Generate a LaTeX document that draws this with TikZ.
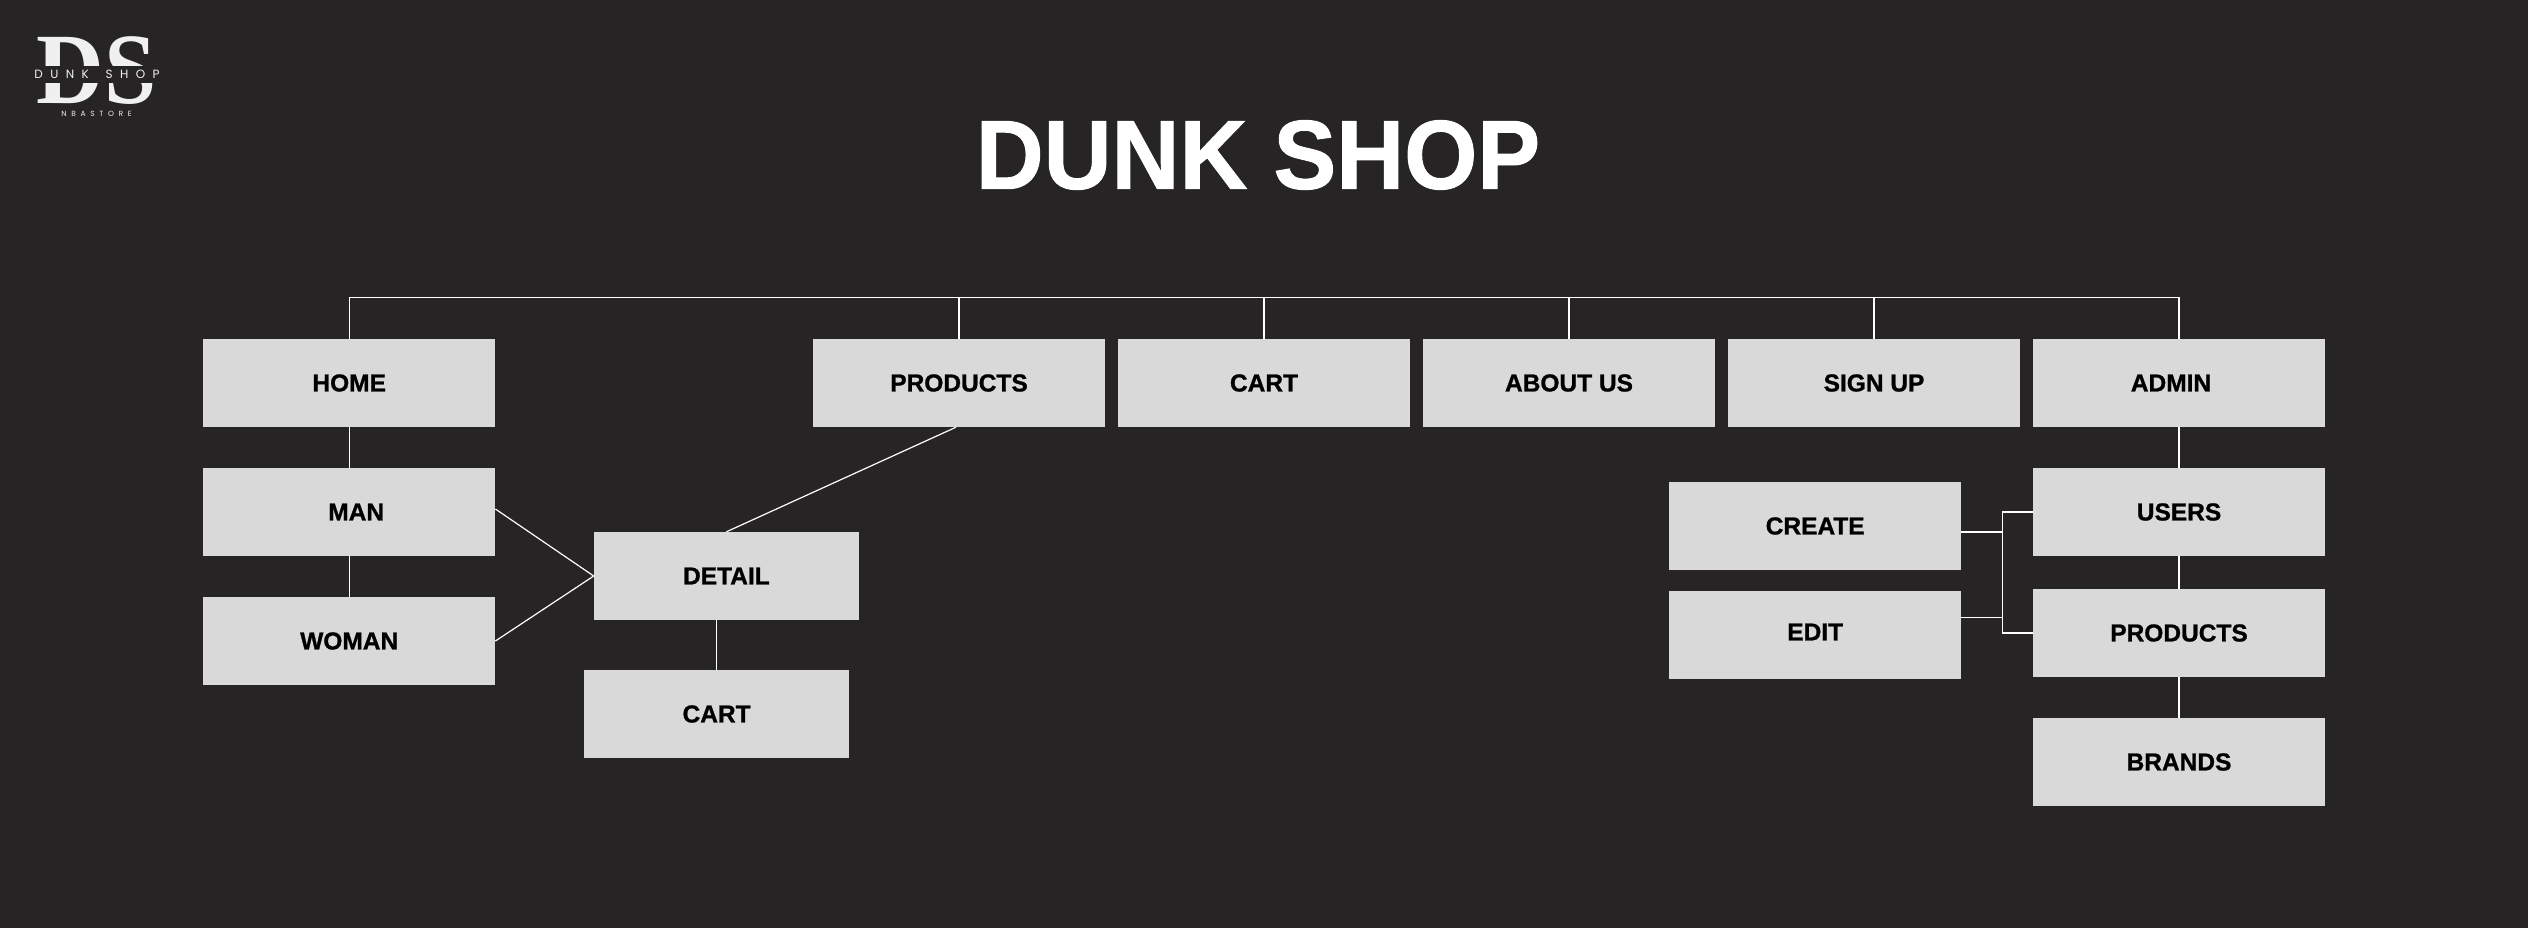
\documentclass[tikz,border=0pt]{standalone}
\usepackage{fontspec}
\setmainfont{Liberation Sans}[BoldFeatures={FakeBold=1}]
\newfontfamily\logofont[LetterSpace=62]{Poppins}
\newfontfamily\dsfont{Liberation Serif}
\usepackage{tikz}
\definecolor{pagebg}{HTML}{262425}
\definecolor{boxgray}{HTML}{D9D9D9}
\definecolor{logowhite}{HTML}{F0F0F0}
\tikzset{
    navbox/.style={fill=boxgray, text=black, inner sep=0pt, minimum width=292pt, minimum height=88pt, font=\bfseries\fontsize{24.5}{30}\selectfont},
    detailbox/.style={navbox, minimum width=265pt},
    conn/.style={draw=white, line width=1.2pt},
}

\begin{document}
\begin{tikzpicture}[x=1pt,y=-1pt]
    \useasboundingbox (0,0) rectangle (2528,927);
    \fill[pagebg] (-3,-3) rectangle (2531,930);

    \node[text=logowhite, inner sep=0pt, xscale=0.93, font=\dsfont\bfseries\fontsize{101}{101}\selectfont] (logods) at (97,70.5) {DS};
    \node[fill=pagebg, text=logowhite, inner sep=0pt, minimum width=132pt, minimum height=17pt, font=\logofont\fontsize{12}{12}\selectfont] (logoname) at (97,74) {DUNK\hspace{6pt} SHOP};
    \node[text=logowhite, inner sep=0pt, font=\logofont\fontsize{7.5}{7.5}\selectfont] (logosub) at (96.5,113.5) {NBASTORE};
    \node[text=white, inner sep=0pt, xscale=0.96, font=\bfseries\fontsize{98}{98}\selectfont] (title) at (1258,155) {DUNK SHOP};

    \node[navbox] (home) at (349.2,383) {HOME};
    \node[navbox] (man) at (349.2,512) {\hspace*{14pt}MAN};
    \node[navbox] (woman) at (349.2,641) {WOMAN};
    \node[detailbox] (detail) at (726.4,576) {DETAIL};
    \node[detailbox] (cartb) at (716.6,714) {CART};

    \node[navbox] (products) at (959,383) {PRODUCTS};
    \node[navbox] (cart) at (1264,383) {CART};
    \node[navbox] (about) at (1569,383) {ABOUT US};
    \node[navbox] (signup) at (1874,383) {SIGN UP};
    \node[navbox] (admin) at (2179,383) {ADMIN\hspace*{16pt}};

    \node[navbox] (users) at (2179,512) {USERS};
    \node[navbox] (admproducts) at (2179,633) {PRODUCTS};
    \node[navbox] (brands) at (2179,762) {BRANDS};
    \node[navbox] (create) at (1815.2,526) {CREATE};
    \node[navbox] (edit) at (1815.2,635) {\raisebox{6pt}{EDIT}};

    \coordinate (bus) at (349.2,297.3);
    \coordinate (spine) at (2002.7,572);

    \draw[conn] (home.north) |- (bus) -| (admin.north);
    \foreach \nm in {products,cart,about,signup}
        \draw[conn] (\nm.north) -- (\nm.north |- bus);

    \draw[conn] (home) -- (man);
    \draw[conn] (man) -- (woman);
    \draw[conn] ([yshift=3pt]man.east) -- (detail.west);
    \draw[conn] (woman.east) -- (detail.west);
    \draw[conn] ([xshift=-3pt]products.south) -- (detail.north);
    \draw[conn] (cartb.north |- detail.south) -- (cartb.north);

    \draw[conn] (admin) -- (users);
    \draw[conn] (users) -- (admproducts);
    \draw[conn] (admproducts) -- (brands);
    \draw[conn] (users.west) -| (spine) |- (admproducts.west);
    \draw[conn] ([yshift=-6pt]create.east) -| (spine);
    \draw[conn] ([yshift=17.5pt]edit.east) -| (spine);
\end{tikzpicture}
\end{document}
